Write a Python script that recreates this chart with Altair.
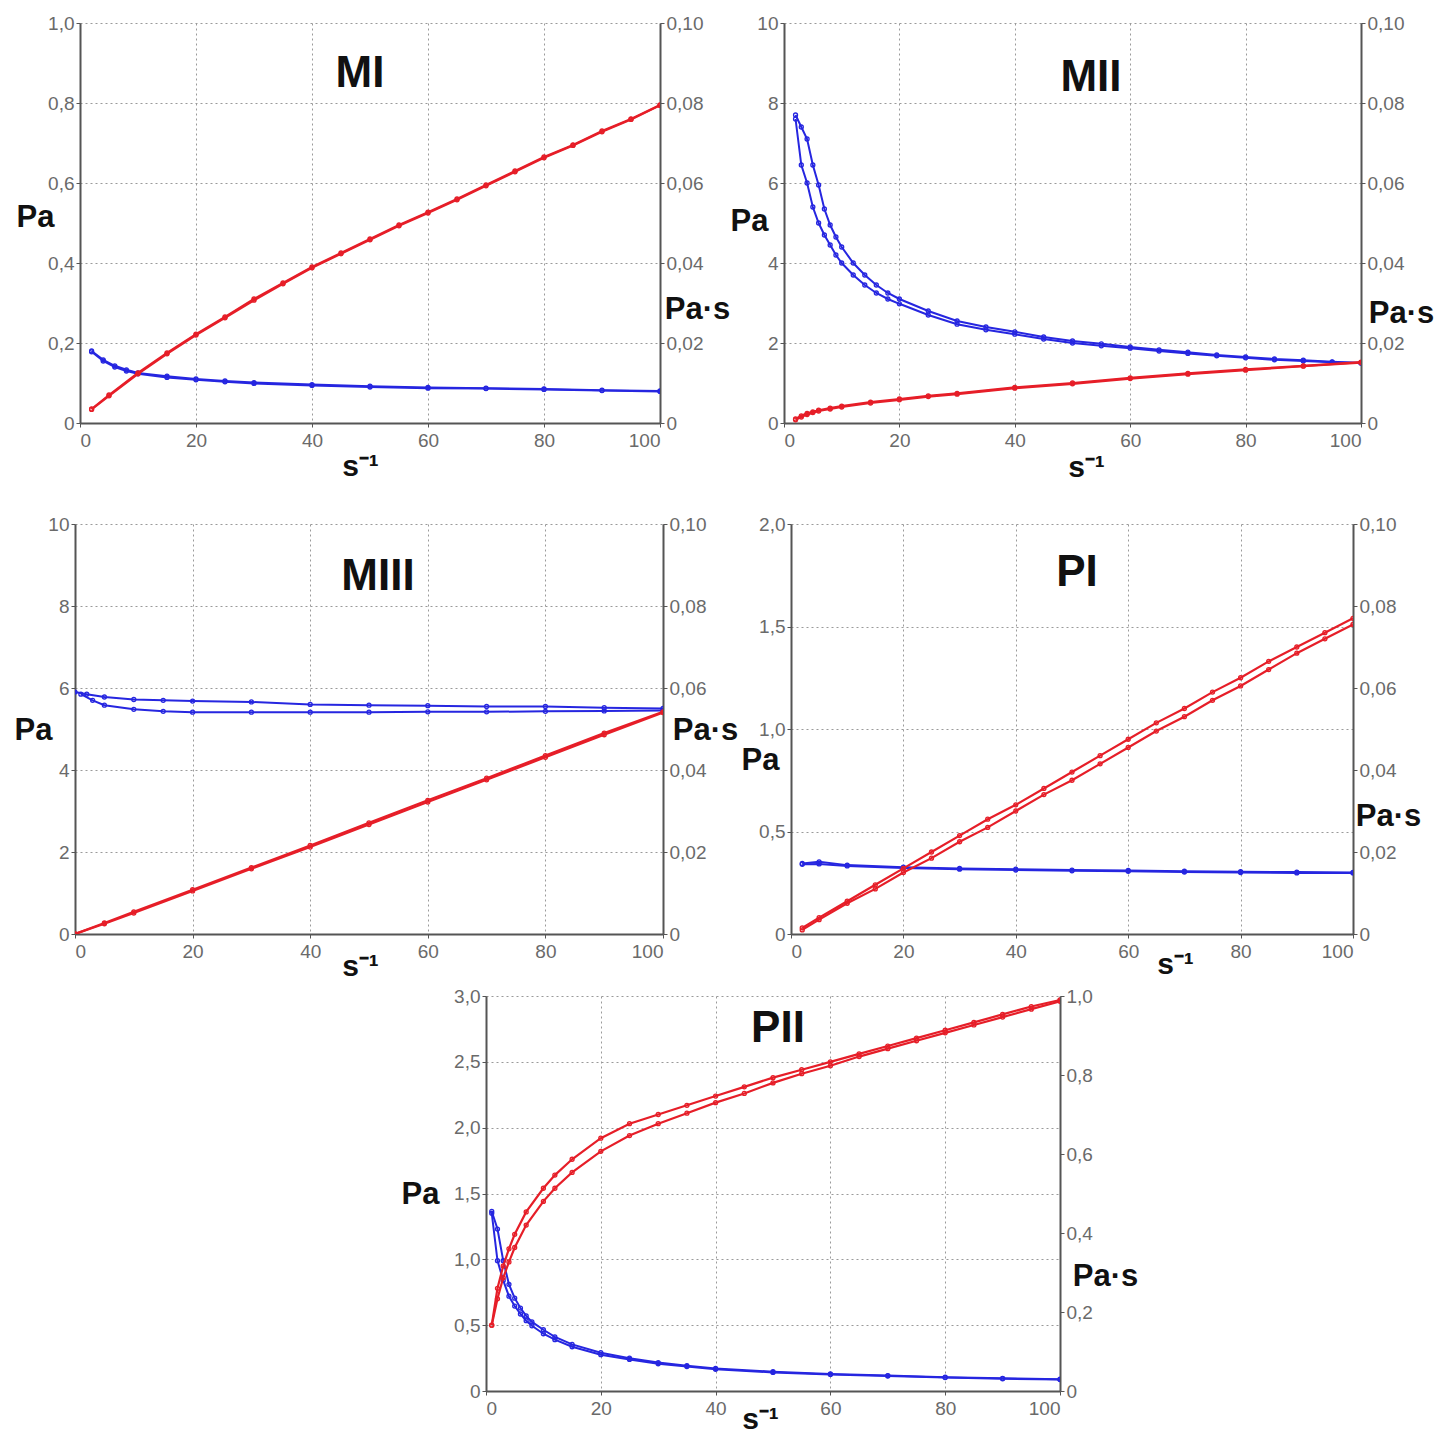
import altair as alt
import pandas as pd

RED = "#e61e28"
BLUE = "#2626e0"
FONT_LAB = "Liberation Sans Narrow, Arial Narrow, Liberation Sans"
FONT_B = "Liberation Sans, Arial"

# ---------------- data ----------------
# MI
mi_red_x = [2, 5, 10, 15, 20, 25, 30, 35, 40, 45, 50, 55, 60, 65, 70, 75, 80, 85, 90, 95, 100]
mi_red_up = [0.035, 0.07, 0.125, 0.175, 0.222, 0.265, 0.31, 0.35, 0.39, 0.425, 0.46, 0.495, 0.527, 0.56, 0.595, 0.63, 0.665, 0.695, 0.73, 0.76, 0.795]
mi_red_dn = [0.034, 0.068, 0.123, 0.173, 0.220, 0.263, 0.307, 0.348, 0.388, 0.423, 0.458, 0.493, 0.525, 0.558, 0.593, 0.628, 0.663, 0.694, 0.728, 0.759, 0.794]
mi_blue_x = [2, 4, 6, 8, 10, 15, 20, 25, 30, 40, 50, 60, 70, 80, 90, 100]
mi_blue_up = [0.018, 0.0158, 0.0143, 0.0133, 0.0125, 0.0117, 0.011, 0.0105, 0.0101, 0.0096, 0.0092, 0.0089, 0.0087, 0.0085, 0.0082, 0.008]
mi_blue_dn = [0.0178, 0.0155, 0.014, 0.013, 0.0123, 0.0114, 0.0108, 0.0103, 0.0099, 0.0094, 0.009, 0.0087, 0.0086, 0.0084, 0.0081, 0.0079]

# MII
mii_red_x = [2, 3, 4, 5, 6, 8, 10, 15, 20, 25, 30, 40, 50, 60, 70, 80, 90, 100]
mii_red_up = [0.1, 0.18, 0.24, 0.28, 0.32, 0.37, 0.42, 0.52, 0.6, 0.68, 0.74, 0.89, 1.0, 1.13, 1.24, 1.34, 1.43, 1.52]
mii_red_dn = [0.08, 0.15, 0.21, 0.26, 0.3, 0.35, 0.4, 0.5, 0.58, 0.66, 0.72, 0.87, 0.98, 1.11, 1.22, 1.32, 1.42, 1.51]
mii_blue_x = [2, 3, 4, 5, 6, 7, 8, 9, 10, 12, 14, 16, 18, 20, 25, 30, 35, 40, 45, 50, 55, 60, 65, 70, 75, 80, 85, 90, 95, 100]
mii_blue_up = [0.077, 0.074, 0.071, 0.0645, 0.0595, 0.0535, 0.0495, 0.0465, 0.044, 0.04, 0.037, 0.0345, 0.0325, 0.031, 0.028, 0.0255, 0.024, 0.0228, 0.0215, 0.0205, 0.0198, 0.019, 0.0183, 0.0177, 0.017, 0.0165, 0.016, 0.0157, 0.0153, 0.015]
mii_blue_dn = [0.076, 0.0645, 0.06, 0.054, 0.05, 0.047, 0.0445, 0.042, 0.04, 0.037, 0.0345, 0.0325, 0.031, 0.0298, 0.027, 0.0247, 0.0233, 0.0222, 0.021, 0.02, 0.0193, 0.0187, 0.018, 0.0174, 0.0168, 0.0163, 0.0158, 0.0155, 0.0152, 0.015]

# MIII
miii_red_x = [0, 5, 10, 20, 30, 40, 50, 60, 70, 80, 90, 100]
miii_red_up = [0.0, 0.27, 0.54, 1.08, 1.62, 2.16, 2.71, 3.26, 3.8, 4.35, 4.9, 5.42]
miii_red_dn = [0.0, 0.25, 0.51, 1.05, 1.59, 2.12, 2.67, 3.22, 3.76, 4.31, 4.86, 5.4]
miii_blue_x_up = [0, 2, 5, 10, 15, 20, 30, 40, 50, 60, 70, 80, 90, 100]
miii_blue_up = [0.059, 0.0585, 0.0578, 0.0572, 0.057, 0.0568, 0.0566, 0.056, 0.0558, 0.0557, 0.0555, 0.0555, 0.0552, 0.055]
miii_blue_x_dn = [1, 3, 5, 10, 15, 20, 30, 40, 50, 60, 70, 80, 90, 100]
miii_blue_dn = [0.0585, 0.057, 0.0558, 0.0548, 0.0543, 0.0541, 0.0541, 0.0541, 0.0541, 0.0542, 0.0542, 0.0543, 0.0544, 0.0545]

# PI
pi_red_x = [2, 5, 10, 15, 20, 25, 30, 35, 40, 45, 50, 55, 60, 65, 70, 75, 80, 85, 90, 95, 100]
pi_red_up = [0.03, 0.08, 0.16, 0.24, 0.32, 0.4, 0.48, 0.56, 0.63, 0.71, 0.79, 0.87, 0.95, 1.03, 1.1, 1.18, 1.25, 1.33, 1.4, 1.47, 1.54]
pi_red_dn = [0.02, 0.07, 0.15, 0.22, 0.3, 0.37, 0.45, 0.52, 0.6, 0.68, 0.75, 0.83, 0.91, 0.99, 1.06, 1.14, 1.21, 1.29, 1.37, 1.44, 1.51]
pi_blue_x = [2, 5, 10, 20, 30, 40, 50, 60, 70, 80, 90, 100]
pi_blue_up = [0.0172, 0.0176, 0.0168, 0.0163, 0.016, 0.0158, 0.0156, 0.0155, 0.0153, 0.0152, 0.0151, 0.015]
pi_blue_dn = [0.017, 0.0171, 0.0166, 0.0161, 0.0158, 0.0156, 0.0154, 0.0153, 0.0151, 0.015, 0.0149, 0.0149]

# PII
pii_red_x = [1, 2, 3, 4, 5, 7, 10, 12, 15, 20, 25, 30, 35, 40, 45, 50, 55, 60, 65, 70, 75, 80, 85, 90, 95, 100]
pii_red_up = [0.5, 0.78, 0.95, 1.08, 1.19, 1.36, 1.54, 1.64, 1.76, 1.92, 2.03, 2.1, 2.17, 2.24, 2.31, 2.38, 2.44, 2.5, 2.56, 2.62, 2.68, 2.74, 2.8, 2.86, 2.92, 2.97]
pii_red_dn = [0.5, 0.7, 0.86, 0.98, 1.09, 1.26, 1.44, 1.54, 1.66, 1.82, 1.94, 2.03, 2.11, 2.19, 2.26, 2.34, 2.41, 2.47, 2.54, 2.6, 2.66, 2.72, 2.78, 2.84, 2.9, 2.96]
pii_blue_x = [1, 2, 3, 4, 5, 6, 7, 8, 10, 12, 15, 20, 25, 30, 35, 40, 50, 60, 70, 80, 90, 100]
pii_blue_up = [0.455, 0.41, 0.33, 0.27, 0.235, 0.21, 0.19, 0.175, 0.155, 0.137, 0.118, 0.097, 0.083, 0.072, 0.064, 0.057, 0.049, 0.043, 0.039, 0.035, 0.032, 0.03]
pii_blue_dn = [0.45, 0.33, 0.28, 0.24, 0.215, 0.195, 0.178, 0.165, 0.145, 0.13, 0.112, 0.092, 0.08, 0.069, 0.062, 0.055, 0.047, 0.042, 0.038, 0.034, 0.031, 0.029]

panel_titles = ["MI", "MII", "MIII", "PI", "PII"]
x_ticks = [0, 20, 40, 60, 80, 100]


def lab_expr(dec):
    if dec == 0:
        return "format(datum.value, '.0f')"
    return "datum.value == 0 ? '0' : replace(format(datum.value, '.%df'), '.', ',')" % dec


def frame(xs_up, ys_up, xs_dn, ys_dn):
    a = pd.DataFrame({"x": xs_up, "y": ys_up, "branch": "up"})
    b = pd.DataFrame({"x": xs_dn, "y": ys_dn, "branch": "down"})
    return pd.concat([a, b], ignore_index=True)


def panel(title, red_df, blue_df, left_dom, left_vals, left_dec, right_dom, right_vals, right_dec,
          w, h, title_xy, pa_xy, pas_xy, s_xy):
    xaxis = alt.Axis(values=x_ticks, grid=True, gridDash=[2, 3], gridColor="#9a9a9a", gridWidth=1,
                     domainColor="#555", domainWidth=2, tickColor="#555", tickSize=4,
                     labelFont=FONT_LAB, labelFontSize=19, labelColor="#6a6a6a", labelPadding=4,
                     title="s⁻¹", titleFont=FONT_B, titleFontSize=30, titleFontWeight="bold",
                     titleColor="#111", titleAngle=0, titleAlign="center", titleBaseline="middle",
                     titleX=s_xy[0], titleY=s_xy[1])
    x = alt.X("x:Q", scale=alt.Scale(domain=[0, 100], nice=False, zero=False), axis=xaxis)
    laxis = alt.Axis(orient="left", values=left_vals, labelExpr=lab_expr(left_dec), grid=True,
                     gridDash=[2, 3], gridColor="#9a9a9a", gridWidth=1,
                     domainColor="#555", domainWidth=2, tickColor="#555", tickSize=4,
                     labelFont=FONT_LAB, labelFontSize=19, labelColor="#6a6a6a", labelPadding=2,
                     title="Pa", titleFont=FONT_B, titleFontSize=31, titleFontWeight="bold",
                     titleColor="#111", titleAngle=0, titleAlign="center", titleBaseline="middle",
                     titleX=pa_xy[0], titleY=pa_xy[1])
    raxis = alt.Axis(orient="right", values=right_vals, labelExpr=lab_expr(right_dec), grid=False,
                     domainColor="#555", domainWidth=2, tickColor="#555", tickSize=4,
                     labelFont=FONT_LAB, labelFontSize=19, labelColor="#6a6a6a", labelPadding=2,
                     title="Pa·s", titleFont=FONT_B, titleFontSize=31, titleFontWeight="bold",
                     titleColor="#111", titleAngle=0, titleAlign="center", titleBaseline="middle",
                     titleX=pas_xy[0], titleY=pas_xy[1])
    blue = alt.Chart(blue_df).mark_line(
        color=BLUE, strokeWidth=2, clip=True,
        point=alt.OverlayMarkDef(filled=False, size=16, strokeWidth=1.3, color=BLUE)
    ).encode(
        x=x,
        y=alt.Y("y:Q", scale=alt.Scale(domain=right_dom, nice=False), axis=raxis),
        detail="branch:N",
    )
    red = alt.Chart(red_df).mark_line(
        color=RED, strokeWidth=2.2, clip=True,
        point=alt.OverlayMarkDef(filled=False, size=16, strokeWidth=1.3, color=RED)
    ).encode(
        x=x,
        y=alt.Y("y:Q", scale=alt.Scale(domain=left_dom, nice=False), axis=laxis),
        detail="branch:N",
    )
    txt = alt.Chart(alt.Data(values=[{"t": title}])).mark_text(
        font=FONT_B, fontSize=44, fontWeight="bold", color="#111", align="center", baseline="middle"
    ).encode(x=alt.value(title_xy[0]), y=alt.value(title_xy[1]), text="t:N")
    return alt.layer(blue, red, txt).resolve_scale(y="independent").properties(width=w, height=h)


def spacer(w):
    return alt.Chart(alt.Data(values=[{"a": 1}])).mark_point(opacity=0).encode(
        x=alt.value(0), y=alt.value(0)
    ).properties(width=w, height=10)


p_mi = panel(panel_titles[0], frame(mi_red_x, mi_red_up, mi_red_x, mi_red_dn),
             frame(mi_blue_x, mi_blue_up, mi_blue_x, mi_blue_dn),
             [0, 1.0], [0, 0.2, 0.4, 0.6, 0.8, 1.0], 1, [0, 0.1], [0, 0.02, 0.04, 0.06, 0.08, 0.1], 2,
             580, 400, (280, 51), (-45, 194), (37, 286), (280, 43))
p_mii = panel(panel_titles[1], frame(mii_red_x, mii_red_up, mii_red_x, mii_red_dn),
              frame(mii_blue_x, mii_blue_up, mii_blue_x, mii_blue_dn),
              [0, 10], [0, 2, 4, 6, 8, 10], 0, [0, 0.1], [0, 0.02, 0.04, 0.06, 0.08, 0.1], 2,
              577, 400, (307, 55), (-35, 198), (40, 290), (302, 44))
p_miii = panel(panel_titles[2], frame(miii_red_x, miii_red_up, miii_red_x, miii_red_dn),
               frame(miii_blue_x_up, miii_blue_up, miii_blue_x_dn, miii_blue_dn),
               [0, 10], [0, 2, 4, 6, 8, 10], 0, [0, 0.1], [0, 0.02, 0.04, 0.06, 0.08, 0.1], 2,
               588, 410, (303, 53), (-42, 206), (42, 206), (285, 32))
p_pi = panel(panel_titles[3], frame(pi_red_x, pi_red_up, pi_red_x, pi_red_dn),
             frame(pi_blue_x, pi_blue_up, pi_blue_x, pi_blue_dn),
             [0, 2.0], [0, 0.5, 1.0, 1.5, 2.0], 1, [0, 0.1], [0, 0.02, 0.04, 0.06, 0.08, 0.1], 2,
             562, 410, (286, 49), (-31, 236), (35, 292), (384, 30))
p_pii = panel(panel_titles[4], frame(pii_red_x, pii_red_up, pii_red_x, pii_red_dn),
              frame(pii_blue_x, pii_blue_up, pii_blue_x, pii_blue_dn),
              [0, 3.0], [0, 0.5, 1.0, 1.5, 2.0, 2.5, 3.0], 1, [0, 1.0], [0, 0.2, 0.4, 0.6, 0.8, 1.0], 1,
              574, 395, (292, 33), (-66, 198), (45, 280), (274, 28))

row1 = alt.hconcat(alt.hconcat(spacer(5), p_mi, spacing=0, bounds="flush"), p_mii, spacing=0)
row2 = alt.hconcat(p_miii, p_pi, spacing=128, bounds="flush")
row3 = alt.hconcat(spacer(411), p_pii, spacing=0, bounds="flush")

chart = alt.vconcat(
    alt.vconcat(row1, row2, spacing=33),
    row3, spacing=6
).properties(
    padding={"left": 14, "top": 14, "right": 0, "bottom": 0},
    background="white",
).configure_view(stroke=None)

chart.save("out.html", embed_options={"renderer": "svg", "actions": False})
